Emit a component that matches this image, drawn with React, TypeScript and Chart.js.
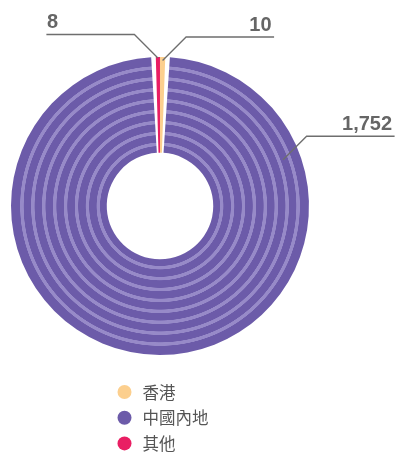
import React, { useEffect, useRef } from "react";
import { Chart, registerables } from "chart.js";

Chart.register(...registerables);

const categories = ["香港", "中國內地", "其他"];
const values = [10, 1752, 8];
const valueLabels = ["10", "1,752", "8"];
const sliceColors = ["#fccf8e", "#6c5ba9", "#e91e63"];
const stripeColor = "#978ac8";
// stripe centres as fractions of the ring thickness (inner -> outer)
const stripeFractions = [0.088, 0.202, 0.316, 0.43, 0.544, 0.658, 0.772, 0.886];
const CUTOUT = 0.353;

function stripedFill(chart: any) {
  const area = chart.chartArea;
  if (!area) return sliceColors[1];
  const cx = (area.left + area.right) / 2;
  const cy = (area.top + area.bottom) / 2;
  const half = Math.min(area.right - area.left, area.bottom - area.top) / 2;
  const outerR = half;
  const innerR = (half - 1) * CUTOUT + 1;
  const R = outerR + 4;
  const g = chart.ctx.createRadialGradient(cx, cy, 0, cx, cy, R);
  const dark = sliceColors[1];
  g.addColorStop(0, dark);
  const hw = 1.5;
  stripeFractions.forEach((f) => {
    const r = innerR + f * (outerR - innerR);
    g.addColorStop(Math.max(0, (r - hw - 0.5) / R), dark);
    g.addColorStop((r - hw) / R, stripeColor);
    g.addColorStop((r + hw) / R, stripeColor);
    g.addColorStop(Math.min(1, (r + hw + 0.5) / R), dark);
  });
  g.addColorStop(1, dark);
  return g;
}

const leaderPlugin = {
  id: "leaders",
  afterDatasetsDraw(chart: any) {
    const meta = chart.getDatasetMeta(0);
    const ctx = chart.ctx;
    const specs = [
      { index: 2, rOff: 0, angle: null as number | null },
      { index: 0, rOff: -2.5, angle: null as number | null },
      { index: 1, rOff: -16.5, angle: 69.4 },
    ];
    ctx.save();
    specs.forEach((s) => {
      const arc = meta.data[s.index];
      if (!arc) return;
      const { x, y, startAngle, endAngle, outerRadius } = arc.getProps(
        ["x", "y", "startAngle", "endAngle", "outerRadius"],
        true
      );
      const a =
        s.angle !== null
          ? ((s.angle - 90) * Math.PI) / 180
          : (startAngle + endAngle) / 2;
      const r = outerRadius + s.rOff;
      const ax = x + Math.cos(a) * r;
      const ay = y + Math.sin(a) * r;
      const dir = Math.cos(a) < 0 ? -1 : 1;
      const d = 23.5;
      const ex = ax + dir * d;
      const ey = ay - d;
      const hx = ex + dir * 88;
      ctx.strokeStyle = "#6e6e6e";
      ctx.lineWidth = 1.3;
      ctx.beginPath();
      ctx.moveTo(ax, ay);
      ctx.lineTo(ex, ey);
      ctx.lineTo(hx, ey);
      ctx.stroke();
      ctx.fillStyle = "#666666";
      ctx.font = "bold 20px 'Liberation Sans', Arial, sans-serif";
      ctx.textBaseline = "alphabetic";
      if (dir < 0) {
        ctx.textAlign = "left";
        ctx.fillText(valueLabels[s.index], hx + 0.5, ey - 7);
      } else {
        ctx.textAlign = "right";
        ctx.fillText(valueLabels[s.index], hx - 2.5, ey - 6);
      }
    });
    ctx.restore();
  },
};

const legendPlugin = {
  id: "vlegend",
  afterDraw(chart: any) {
    const ctx = chart.ctx;
    const area = chart.chartArea;
    const cx = (area.left + area.right) / 2;
    const startY = area.bottom + 37;
    ctx.save();
    categories.forEach((label, i) => {
      const yy = startY + i * 25.7;
      ctx.fillStyle = sliceColors[i];
      ctx.beginPath();
      ctx.arc(cx - 35.5, yy, 7, 0, Math.PI * 2);
      ctx.fill();
      ctx.fillStyle = "#555555";
      ctx.font = "16.5px 'Noto Sans CJK TC', sans-serif";
      ctx.textAlign = "left";
      ctx.textBaseline = "middle";
      ctx.fillText(label, cx - 17.5, yy + 0.5);
    });
    ctx.restore();
  },
};

export default function App() {
  const ref = useRef<HTMLCanvasElement | null>(null);
  useEffect(() => {
    if (!ref.current) return;
    const chart = new Chart(ref.current, {
      type: "doughnut",
      data: {
        labels: categories,
        datasets: [
          {
            data: values,
            backgroundColor: (c: any) =>
              c.dataIndex === 1 ? stripedFill(c.chart) : sliceColors[c.dataIndex],
            borderWidth: 0,
            spacing: 2,
          },
        ],
      },
      options: {
        animation: false,
        responsive: true,
        maintainAspectRatio: false,
        cutout: `${CUTOUT * 100}%`,
        layout: { padding: { left: 11, right: 92, top: 57, bottom: 97 } },
        plugins: {
          legend: { display: false },
          tooltip: { enabled: false },
        },
        events: [],
      },
      plugins: [leaderPlugin, legendPlugin],
    } as any);
    return () => chart.destroy();
  }, []);
  return (
    <div style={{ position: "fixed", left: 0, top: 0, width: 401, height: 452, background: "#fff" }}>
      <canvas ref={ref} />
    </div>
  );
}
